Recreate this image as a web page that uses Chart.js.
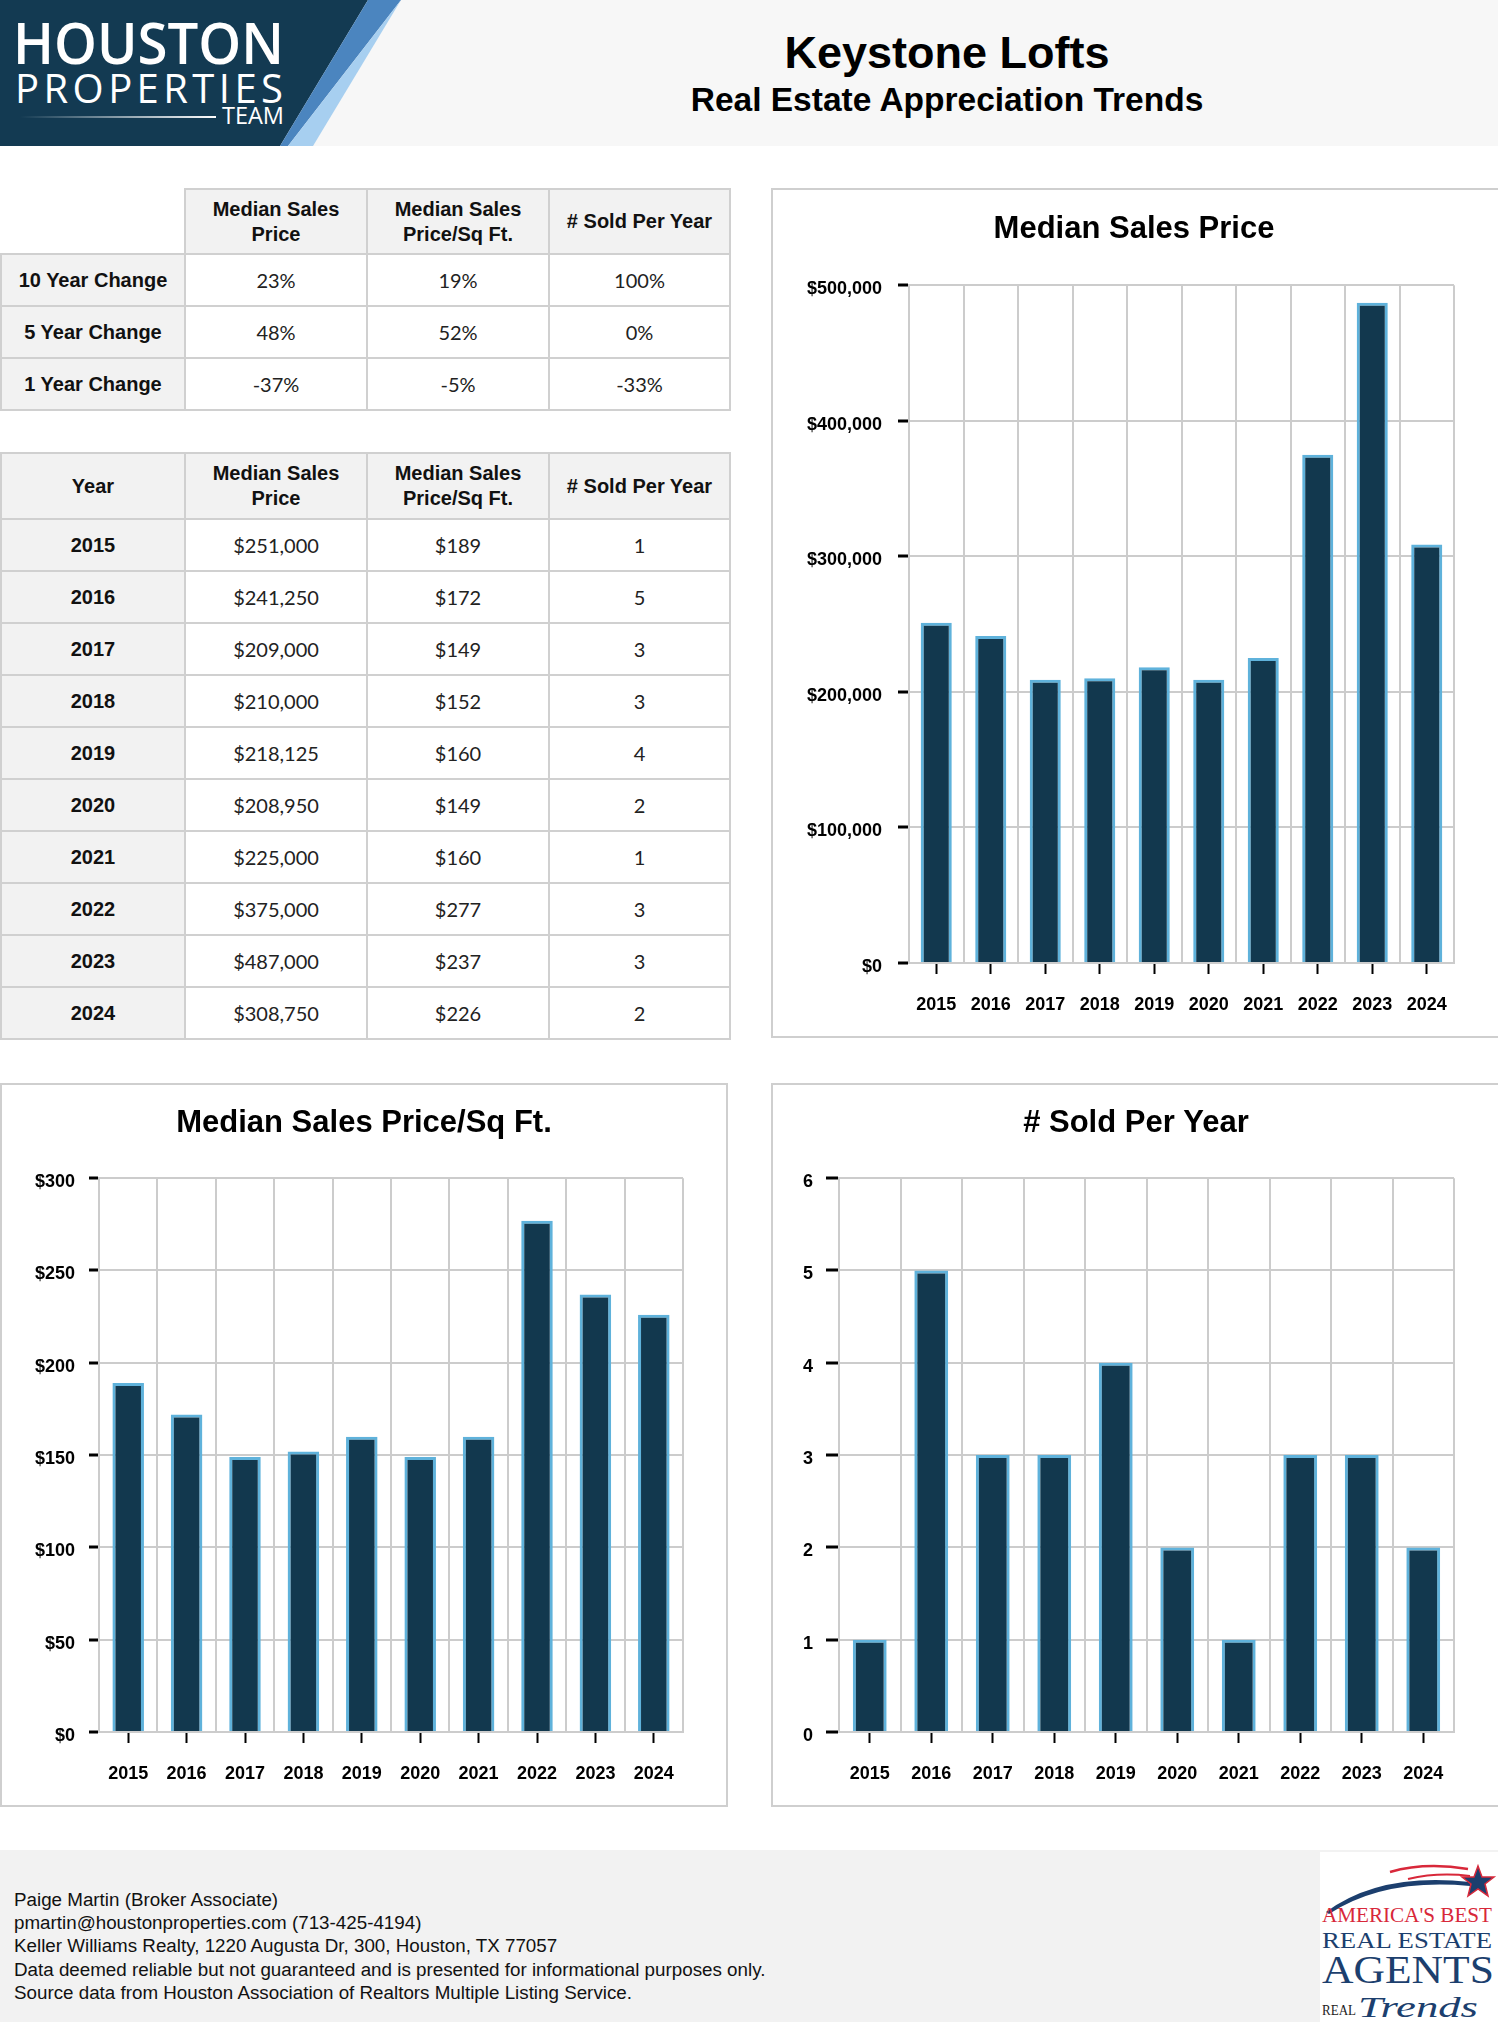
<!DOCTYPE html>
<html>
<head>
<meta charset="utf-8">
<title>Keystone Lofts - Real Estate Appreciation Trends</title>
<script src="https://cdn.jsdelivr.net/npm/chart.js@4.4.1/dist/chart.umd.min.js"></script>
<style>
  html, body { margin: 0; padding: 0; }
  body {
    width: 1498px; height: 2022px; position: relative; overflow: hidden;
    background: #fff; color: #111;
    font-family: "Liberation Sans", Arial, sans-serif;
  }
  #header { position: absolute; left: 0; top: 0; width: 1498px; height: 146px; background: #f7f7f7; }
  #logo { position: absolute; left: 0; top: 0; }
  .title { position: absolute; left: 547px; width: 800px; text-align: center; font-weight: bold; color: #000; }
  #t1 { top: 30px; font-size: 45px; line-height: 45px; }
  #t2 { top: 83px; font-size: 33.5px; line-height: 33px; }

  table.grid { position: absolute; left: 0; border-collapse: collapse; table-layout: fixed; width: 729px; }
  table.grid th, table.grid td { border: 2px solid #d0d0d0; padding: 0; text-align: center; }
  table.grid th { background: #f2f2f2; font-weight: bold; font-size: 20px; line-height: 25px; color: #111; }
  table.grid td { font-family: Lato, "Liberation Sans", sans-serif; font-size: 20px; color: #222; }
  table.grid th.blank { background: #fff; border-top: none; border-left: none; }
  #changes { top: 188px; }
  #yearly { top: 452px; }

  .box { position: absolute; border: 2px solid #cfcfcf; background: #fff; }
  .box canvas { display: block; }
  #box1 { left: 771px; top: 188px; width: 736px; height: 846px; }
  #box2 { left: 0; top: 1083px; width: 724px; height: 720px; }
  #box3 { left: 771px; top: 1083px; width: 736px; height: 720px; }

  #footer { position: absolute; left: 0; top: 1850px; width: 1498px; height: 172px; background: #f2f2f2; }
  #footer .txt { position: absolute; left: 14px; top: 38px; font-size: 18.8px; line-height: 23.2px; color: #111; }
  #badge { position: absolute; left: 1320px; top: 2px; }
</style>
</head>
<body>

<div id="header">
  <svg id="logo" width="420" height="146" viewBox="0 0 420 146">
    <polygon points="0,0 368,0 280,146 0,146" fill="#133a52"/>
    <polygon points="368,0 401,0 288,146 280,146" fill="#4b85bf"/>
    <polygon points="401,0 313,146 288,146" fill="#a7cff0"/>
    <text x="13" y="64" fill="#fff" font-family="Open Sans, sans-serif" font-weight="600" font-size="58" textLength="271" lengthAdjust="spacingAndGlyphs">HOUSTON</text>
    <text x="15" y="103" fill="#fff" font-family="Open Sans, sans-serif" font-weight="400" font-size="40" textLength="268" lengthAdjust="spacing">PROPERTIES</text>
    <defs>
      <linearGradient id="fade" x1="0" x2="1" y1="0" y2="0">
        <stop offset="0" stop-color="#fff" stop-opacity="0"/>
        <stop offset="1" stop-color="#fff" stop-opacity="1"/>
      </linearGradient>
    </defs>
    <rect x="20" y="116" width="196" height="2" fill="url(#fade)"/>
    <text x="222" y="124" fill="#fff" font-family="Open Sans, sans-serif" font-size="24" textLength="62" lengthAdjust="spacingAndGlyphs">TEAM</text>
  </svg>
  <div class="title" id="t1">Keystone Lofts</div>
  <div class="title" id="t2">Real Estate Appreciation Trends</div>
</div>

<table class="grid" id="changes"></table>
<table class="grid" id="yearly"></table>

<div class="box" id="box1"><canvas id="priceChart" width="722" height="846"></canvas></div>
<div class="box" id="box2"><canvas id="sqftChart" width="724" height="720"></canvas></div>
<div class="box" id="box3"><canvas id="soldChart" width="726" height="720"></canvas></div>

<div id="footer">
  <div class="txt">
    Paige Martin (Broker Associate)<br>
    pmartin@houstonproperties.com (713-425-4194)<br>
    Keller Williams Realty, 1220 Augusta Dr, 300, Houston, TX 77057<br>
    Data deemed reliable but not guaranteed and is presented for informational purposes only.<br>
    Source data from Houston Association of Realtors Multiple Listing Service.
  </div>
  <svg id="badge" width="178" height="170" viewBox="0 0 178 170">
    <rect x="0" y="0" width="178" height="170" fill="#fff"/>
    <path d="M6,60 Q60,20 150,30 L150,34 Q64,26 9,62 Z" fill="#1c3f6e"/>
    <path d="M70,20 Q105,10 148,17" stroke="#d8283a" stroke-width="2.5" fill="none"/>
    <path d="M88,27 Q118,20 150,24" stroke="#d8283a" stroke-width="2" fill="none"/>
    <polygon points="158,14 162,25 174,25 165,32 168,44 158,37 148,44 151,32 142,25 154,25" fill="#1c3f6e" stroke="#d8283a" stroke-width="1.5"/>
    <text x="2" y="70" fill="#d8283a" font-family="Liberation Serif, serif" font-size="22" textLength="170" lengthAdjust="spacingAndGlyphs">AMERICA'S BEST</text>
    <text x="2" y="96" fill="#1c3f6e" font-family="Liberation Serif, serif" font-size="24" textLength="170" lengthAdjust="spacingAndGlyphs">REAL ESTATE</text>
    <text x="2" y="131" fill="#1c3f6e" font-family="Liberation Serif, serif" font-size="40" textLength="172" lengthAdjust="spacingAndGlyphs">AGENTS</text>
    <text x="2" y="163" fill="#222" font-family="Liberation Serif, serif" font-size="15" textLength="34" lengthAdjust="spacingAndGlyphs">REAL</text>
    <text x="38" y="165" fill="#1c3f6e" font-family="Liberation Serif, serif" font-style="italic" font-size="30" textLength="120" lengthAdjust="spacingAndGlyphs">Trends</text>
  </svg>
</div>

<script>
// data
const years = ['2015', '2016', '2017', '2018', '2019', '2020', '2021', '2022', '2023', '2024'];
const medianPrice = [251000, 241250, 209000, 210000, 218125, 208950, 225000, 375000, 487000, 308750];
const pricePerSqFt = [189, 172, 149, 152, 160, 149, 160, 277, 237, 226];
const soldPerYear = [1, 5, 3, 3, 4, 2, 1, 3, 3, 2];

const changeLabels = ['10 Year Change', '5 Year Change', '1 Year Change'];
const changePrice = ['23%', '48%', '-37%'];
const changeSqFt = ['19%', '52%', '-5%'];
const changeSold = ['100%', '0%', '-33%'];

const colHeads = ['Median Sales<br>Price', 'Median Sales<br>Price/Sq Ft.', '# Sold Per Year'];

const money = v => '$' + Number(v).toLocaleString('en-US');

function colgroup() {
  return '<colgroup><col style="width:184px"><col style="width:182px"><col style="width:182px"><col style="width:181px"></colgroup>';
}

// change table
let html = colgroup();
html += '<tr style="height:65px"><th class="blank"></th>' + colHeads.map(h => '<th>' + h + '</th>').join('') + '</tr>';
changeLabels.forEach((lbl, i) => {
  html += '<tr style="height:52px"><th>' + lbl + '</th><td>' + changePrice[i] + '</td><td>' +
    changeSqFt[i] + '</td><td>' + changeSold[i] + '</td></tr>';
});
document.getElementById('changes').innerHTML = html;

// yearly table
html = colgroup();
html += '<tr style="height:66px"><th>Year</th>' + colHeads.map(h => '<th>' + h + '</th>').join('') + '</tr>';
years.forEach((yr, i) => {
  html += '<tr style="height:52px"><th>' + yr + '</th><td>' + money(medianPrice[i]) + '</td><td>' +
    money(pricePerSqFt[i]) + '</td><td>' + soldPerYear[i] + '</td></tr>';
});
document.getElementById('yearly').innerHTML = html;

Chart.defaults.font.family = '"Liberation Sans", Arial, sans-serif';
Chart.defaults.color = '#000';

function barChart(id, title, values, yMax, yStep, isMoney, g) {
  const ctx = document.getElementById(id).getContext('2d');
  return new Chart(ctx, {
    type: 'bar',
    data: {
      labels: years,
      datasets: [{
        data: values,
        xAxisID: 'x',
        yAxisID: 'y',
        backgroundColor: '#12384e',
        borderColor: '#5fb2db',
        borderWidth: 3,
        barPercentage: g.bar,
        categoryPercentage: 1
      }]
    },
    options: {
      responsive: false,
      animation: false,
      layout: { padding: 0 },
      plugins: {
        legend: { display: false },
        tooltip: { enabled: false },
        title: {
          display: true,
          text: title,
          color: '#000',
          font: { size: 31, weight: 'bold' },
          padding: { top: g.titleTop, bottom: g.titleBottom }
        }
      },
      scales: {
        x: {
          offset: true,
          z: 1,
          ticks: { padding: 20, color: '#000', font: { size: 18, weight: 'bold' }, maxRotation: 0, autoSkip: false },
          grid: { offset: false, drawOnChartArea: false, tickColor: '#000', tickWidth: 2, tickLength: 11 },
          border: { color: '#cccccc', width: 2 },
          afterFit: s => { s.height = 73; }
        },
        // second category axis only for the vertical lines between the years
        x2: {
          type: 'category',
          position: 'bottom',
          offset: true,
          ticks: { display: false },
          grid: { offset: true, color: '#cccccc', lineWidth: 2, drawTicks: false },
          border: { display: false },
          afterFit: s => { s.height = 0; }
        },
        y: {
          min: 0,
          max: yMax,
          z: 1,
          ticks: {
            stepSize: yStep,
            padding: g.yPad,
            labelOffset: 4,
            color: '#000',
            font: { size: 18, weight: 'bold' },
            callback: v => isMoney ? money(v) : v
          },
          grid: { color: '#cccccc', lineWidth: 2, tickColor: '#000', tickWidth: 3, tickLength: g.yTick },
          border: { color: '#cccccc', width: 2 },
          afterFit: s => { s.width = g.yWidth; }
        },
        // empty right axis keeps the plot off the right edge
        yR: {
          type: 'linear',
          position: 'right',
          ticks: { display: false },
          grid: { display: false },
          border: { display: false },
          afterFit: s => { s.width = g.right; }
        }
      }
    }
  });
}

barChart('priceChart', 'Median Sales Price', medianPrice, 500000, 100000, true,
  { yWidth: 136, right: 41, yTick: 11, yPad: 16, titleTop: 21, titleBottom: 37, bar: 0.57 });
barChart('sqftChart', 'Median Sales Price/Sq Ft.', pricePerSqFt, 300, 50, true,
  { yWidth: 97, right: 43, yTick: 10, yPad: 14, titleTop: 20, titleBottom: 36, bar: 0.54 });
barChart('soldChart', '# Sold Per Year', soldPerYear, 6, 1, false,
  { yWidth: 66, right: 45, yTick: 13, yPad: 13, titleTop: 20, titleBottom: 36, bar: 0.55 });
</script>
</body>
</html>
